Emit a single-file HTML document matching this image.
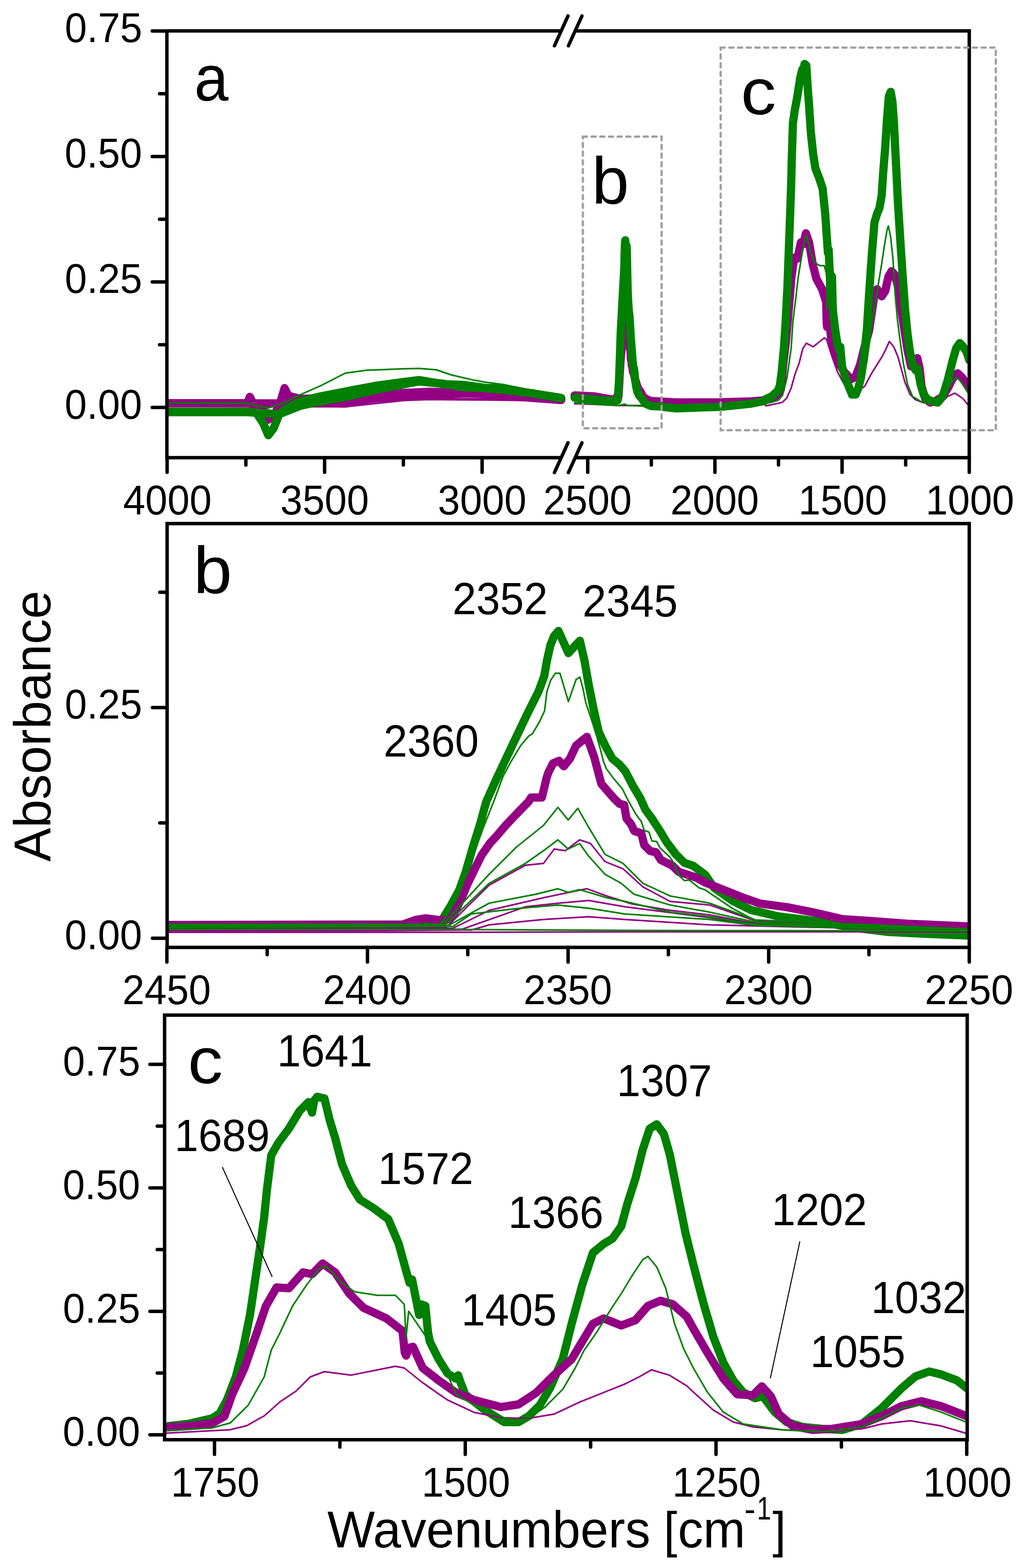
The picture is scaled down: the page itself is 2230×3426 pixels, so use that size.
<!DOCTYPE html><html><head><meta charset="utf-8"><style>html,body{margin:0;padding:0;background:#fff;}svg{display:block;}text{font-family:'Liberation Sans', Arial, sans-serif;fill:#000;}</style></head><body>
<svg width="2230" height="3426" viewBox="0 0 2230 3426">
<rect width="2230" height="3426" fill="#fff"/>
<defs>
<clipPath id="ca"><rect x="364.5" y="67.5" width="1752.5" height="932.5"/></clipPath>
<clipPath id="cb"><rect x="365.0" y="1144.0" width="1752.0" height="926.0"/></clipPath>
<clipPath id="cc"><rect x="359.5" y="2218.0" width="1753.0" height="927.7"/></clipPath>
</defs>
<g clip-path="url(#cc)">
<path d="M360.0 3117.0L411.6 3111.0L463.3 3099.0L480.0 3088.0L495.6 3058.9L515.0 3008.5L530.4 2950.4L546.0 2873.0L557.5 2795.4L569.0 2718.0L577.0 2660.0L582.7 2601.8L592.4 2524.3L608.0 2497.0L631.0 2466.0L654.4 2427.5L673.7 2408.0L681.5 2431.0L686.0 2405.0L693.0 2396.5L708.6 2400.0L720.0 2447.0L731.8 2485.6L747.0 2543.7L766.7 2590.0L786.0 2621.0L817.0 2640.5L848.0 2663.7L871.0 2718.0L886.8 2776.0L894.5 2803.0L900.0 2795.4L915.5 2873.0L920.0 2850.0L929.0 2853.5L934.9 2911.6L938.7 2931.0L958.0 2969.7L977.5 3000.7L995.0 3012.0L1000.7 3005.0L1005.0 3018.0L1016.2 3047.0L1055.0 3078.0L1101.4 3107.3L1132.4 3107.3L1155.6 3093.7L1178.9 3070.5L1202.0 3031.7L1229.0 2969.7L1248.6 2892.3L1271.8 2807.0L1295.0 2737.3L1318.3 2718.0L1337.7 2706.4L1357.0 2679.2L1370.6 2628.9L1388.0 2574.7L1403.5 2512.7L1419.0 2466.2L1434.5 2456.5L1450.0 2477.8L1463.0 2523.0L1480.3 2609.5L1497.6 2696.0L1514.9 2765.2L1536.5 2847.4L1558.0 2921.0L1579.8 2977.2L1601.4 3016.0L1623.0 3042.0L1649.0 3055.0L1666.3 3050.7L1692.2 3085.3L1718.2 3107.0L1752.8 3117.8L1796.0 3122.0L1839.3 3124.3L1882.5 3111.3L1925.8 3076.7L1969.0 3033.4L1999.3 3007.5L2029.6 2996.6L2055.6 3003.1L2090.0 3016.0L2112.0 3033.4" stroke="#008000" stroke-width="18" fill="none" stroke-linejoin="round" stroke-linecap="round"/>
<path d="M360.0 3119.0L411.6 3116.0L463.3 3110.0L490.0 3095.0L507.0 3047.0L534.0 2989.0L561.0 2911.6L580.8 2853.5L604.0 2813.0L631.0 2814.8L662.0 2780.0L681.5 2784.0L704.7 2760.6L731.8 2780.0L762.8 2826.4L793.8 2857.4L844.0 2880.7L879.0 2907.8L884.0 2955.0L887.0 2962.0L893.0 2945.0L902.0 2942.6L923.2 2989.0L958.0 3016.2L996.8 3043.3L1035.6 3058.9L1093.7 3074.3L1132.4 3068.5L1171.0 3043.3L1209.9 3004.6L1248.6 2969.7L1271.8 2931.0L1295.0 2892.3L1318.3 2880.7L1357.0 2896.1L1388.0 2884.5L1415.0 2853.5L1442.3 2842.0L1469.4 2849.7L1500.0 2876.8L1514.9 2903.7L1545.2 2955.6L1579.8 3011.8L1610.0 3046.4L1644.6 3048.6L1664.0 3029.0L1683.6 3050.7L1700.9 3089.6L1731.2 3115.6L1774.4 3124.3L1817.7 3122.0L1882.5 3111.3L1925.8 3094.0L1969.0 3072.4L2012.3 3061.5L2055.6 3072.4L2112.0 3094.5" stroke="#940084" stroke-width="18" fill="none" stroke-linejoin="round" stroke-linecap="round"/>
<path d="M360.0 3131.5L463.3 3126.0L502.0 3124.0L539.0 3115.0L560.0 3103.0L577.0 3093.7L611.8 3062.7L646.6 3039.5L677.6 3008.5L708.6 2996.9L766.7 3004.6L824.8 2993.0L863.5 2985.2L883.0 2989.0L921.7 3020.0L960.0 3047.0L977.5 3058.9L1035.6 3086.0L1093.7 3097.6L1151.8 3099.5L1209.9 3089.8L1268.0 3062.7L1326.0 3039.5L1364.8 3024.0L1395.8 3008.5L1423.0 2993.0L1461.7 3004.6L1500.0 3027.9L1514.9 3042.0L1558.0 3081.0L1601.4 3107.0L1644.6 3117.8L1709.5 3124.3L1796.0 3126.4L1882.5 3122.0L1925.8 3111.3L1988.0 3104.2L2055.6 3115.6L2112.0 3132.3" stroke="#940084" stroke-width="3.5" fill="none" stroke-linejoin="round" stroke-linecap="round"/>
<path d="M360.0 3126.0L463.3 3120.0L503.0 3109.0L542.0 3070.5L577.0 3008.5L592.4 2950.0L611.8 2911.6L639.0 2853.5L670.0 2807.0L697.0 2772.0L712.5 2766.4L747.0 2803.0L774.5 2822.6L824.8 2830.3L863.5 2830.3L883.0 2849.7L886.8 2923.3L892.6 2865.0L921.7 2907.8L960.0 2965.0L996.8 3047.0L1055.0 3082.0L1113.0 3101.4L1151.8 3101.4L1190.5 3074.3L1229.2 3035.6L1256.4 2989.0L1275.7 2950.4L1302.8 2911.6L1333.8 2861.3L1357.0 2826.4L1380.3 2787.7L1403.5 2752.8L1415.2 2745.0L1434.5 2768.3L1454.0 2814.8L1473.3 2892.3L1493.3 2947.0L1514.9 2990.0L1545.2 3042.0L1579.8 3085.3L1623.0 3111.3L1666.3 3117.8L1709.5 3124.3L1796.0 3128.6L1882.5 3117.8L1925.8 3098.3L1969.0 3076.7L2008.0 3070.0L2055.6 3085.3L2112.0 3108.0" stroke="#008000" stroke-width="3.5" fill="none" stroke-linejoin="round" stroke-linecap="round"/>
</g>
<g clip-path="url(#cb)">
<path d="M360.0 2023.0L700.0 2023.0L900.0 2022.0L955.0 2021.0L961.7 2016.0L985.5 1977.4L1003.0 1945.0L1016.8 1906.6L1031.6 1855.0L1047.8 1803.3L1062.0 1751.6L1085.2 1700.0L1118.8 1628.9L1150.8 1561.7L1167.6 1528.0L1176.0 1511.3L1188.6 1477.6L1194.5 1444.0L1202.0 1410.4L1210.0 1390.0L1219.7 1378.5L1241.5 1427.0L1258.3 1408.7L1266.5 1400.0L1276.8 1444.6L1285.8 1496.2L1296.2 1547.9L1307.8 1599.5L1323.3 1631.8L1337.5 1657.6L1353.0 1670.5L1365.8 1685.2L1382.6 1717.5L1398.1 1743.3L1409.7 1769.1L1423.9 1788.5L1440.7 1814.3L1456.2 1840.1L1475.6 1866.0L1494.9 1885.3L1514.3 1891.8L1531.1 1904.7L1540.0 1911.0L1560.0 1940.2L1600.0 1968.2L1640.0 1988.2L1700.0 2002.3L1780.0 2012.3L1860.0 2026.3L1940.3 2036.3L2020.3 2040.3L2120.0 2044.3" stroke="#008000" stroke-width="18" fill="none" stroke-linejoin="round" stroke-linecap="round"/>
<path d="M360.0 2021.0L880.0 2020.0L908.0 2010.0L930.0 2006.5L956.0 2010.0L975.0 2010.0L989.5 2001.0L1010.0 1958.0L1020.7 1932.4L1039.4 1893.7L1052.3 1867.8L1070.4 1842.0L1082.6 1829.1L1104.6 1803.3L1129.1 1777.5L1154.3 1751.6L1160.0 1742.6L1183.4 1742.6L1189.2 1719.4L1193.7 1700.0L1197.8 1687.7L1208.0 1667.6L1221.3 1662.5L1231.4 1674.3L1244.9 1657.5L1258.3 1629.0L1281.8 1610.0L1297.6 1653.5L1313.4 1712.7L1340.0 1743.3L1352.9 1756.2L1363.2 1758.8L1368.4 1788.5L1378.7 1801.4L1385.2 1815.6L1400.7 1820.8L1407.1 1846.6L1420.0 1859.5L1433.0 1862.1L1443.3 1878.9L1456.2 1885.3L1469.1 1891.8L1482.0 1904.7L1501.4 1911.1L1520.8 1917.6L1540.0 1928.2L1580.0 1944.2L1620.0 1960.2L1660.0 1974.2L1720.0 1982.3L1780.0 1994.2L1840.0 2008.3L1900.2 2012.3L1980.3 2018.3L2120.0 2024.3" stroke="#940084" stroke-width="18" fill="none" stroke-linejoin="round" stroke-linecap="round"/>
<path d="M360.0 2029.0L975.0 2026.0L1068.5 1934.0L1147.5 1890.5L1187.0 1886.5L1210.7 1855.0L1234.4 1858.8L1266.0 1835.0L1289.7 1843.0L1321.3 1882.5L1360.8 1898.3L1404.2 1937.8L1463.5 1969.5L1550.0 1977.4L1650.0 2012.0L2120.0 2028.0" stroke="#940084" stroke-width="3.5" fill="none" stroke-linejoin="round" stroke-linecap="round"/>
<path d="M360.0 2031.5L990.0 2028.0L1068.5 1989.0L1187.0 1961.5L1281.8 1941.8L1325.2 1957.6L1380.0 1975.0L1463.5 1989.0L1550.0 1999.0L1650.0 2018.0L2120.0 2030.0" stroke="#940084" stroke-width="3.5" fill="none" stroke-linejoin="round" stroke-linecap="round"/>
<path d="M360.0 2034.0L1010.0 2030.0L1147.5 1981.3L1218.6 1973.4L1285.7 1967.5L1364.7 1981.3L1550.0 2005.0L1650.0 2022.0L2120.0 2032.0" stroke="#940084" stroke-width="3.5" fill="none" stroke-linejoin="round" stroke-linecap="round"/>
<path d="M360.0 2036.5L1030.0 2032.0L1068.5 2020.8L1187.0 2009.0L1285.7 2003.0L1364.7 2009.0L1550.0 2020.8L2120.0 2034.0" stroke="#940084" stroke-width="3.5" fill="none" stroke-linejoin="round" stroke-linecap="round"/>
<path d="M360.0 2037.0L1000.0 2037.0L1400.0 2036.0L2120.0 2036.0" stroke="#940084" stroke-width="3.5" fill="none" stroke-linejoin="round" stroke-linecap="round"/>
<path d="M360.0 2019.5L960.0 2019.5L969.7 2009.0L1000.0 1960.0L1030.0 1880.0L1055.0 1810.0L1080.2 1746.6L1098.7 1696.1L1117.1 1662.5L1137.3 1628.9L1155.0 1608.0L1162.5 1603.7L1177.6 1578.5L1189.4 1553.3L1194.5 1511.3L1202.9 1486.0L1213.0 1471.0L1223.0 1471.0L1241.5 1533.0L1258.3 1484.4L1266.5 1479.4L1272.9 1502.7L1279.4 1535.0L1284.5 1550.4L1292.3 1573.7L1302.6 1606.0L1311.6 1638.2L1318.1 1664.0L1324.6 1680.0L1340.0 1700.7L1359.4 1723.9L1372.3 1749.7L1389.1 1779.4L1400.7 1795.0L1407.1 1814.3L1417.5 1818.2L1423.9 1837.5L1434.3 1838.8L1442.0 1853.0L1462.7 1872.4L1469.1 1881.5L1484.6 1915.0L1494.9 1924.0L1505.3 1922.8L1527.2 1940.0L1540.0 1944.2L1600.0 1985.0L1660.0 2016.3L2120.0 2032.0" stroke="#008000" stroke-width="3.5" fill="none" stroke-linejoin="round" stroke-linecap="round"/>
<path d="M360.0 2021.5L960.0 2021.5L973.7 2013.0L1068.5 1910.0L1127.7 1851.0L1187.0 1803.5L1218.6 1764.0L1241.0 1791.7L1262.0 1766.0L1285.7 1807.5L1321.3 1866.7L1360.8 1886.5L1404.2 1930.0L1463.5 1957.6L1550.0 1973.4L1650.0 2010.0L2120.0 2030.0" stroke="#008000" stroke-width="3.5" fill="none" stroke-linejoin="round" stroke-linecap="round"/>
<path d="M360.0 2023.5L973.7 2020.0L1068.5 1930.0L1147.5 1886.5L1187.0 1858.8L1218.6 1835.0L1241.0 1855.0L1266.0 1843.0L1285.7 1870.7L1321.3 1910.2L1356.8 1930.0L1384.5 1953.7L1463.5 1977.4L1550.0 1993.0L1650.0 2015.0L2120.0 2030.0" stroke="#008000" stroke-width="3.5" fill="none" stroke-linejoin="round" stroke-linecap="round"/>
<path d="M360.0 2025.5L980.0 2022.0L1068.5 1973.4L1171.0 1953.7L1218.6 1941.8L1241.0 1949.7L1266.0 1943.8L1325.2 1961.5L1364.7 1969.5L1463.5 1993.0L1550.0 2003.0L1650.0 2020.0L2120.0 2032.0" stroke="#008000" stroke-width="3.5" fill="none" stroke-linejoin="round" stroke-linecap="round"/>
<path d="M360.0 2027.0L990.0 2024.0L1029.0 1997.0L1130.0 1985.0L1218.6 1977.4L1290.0 1985.0L1364.7 1997.0L1550.0 2009.0L1650.0 2022.0L2120.0 2034.0" stroke="#008000" stroke-width="3.5" fill="none" stroke-linejoin="round" stroke-linecap="round"/>
<path d="M360.0 2031.0L1000.0 2031.0L1400.0 2033.0L2120.0 2034.0" stroke="#008000" stroke-width="3.5" fill="none" stroke-linejoin="round" stroke-linecap="round"/>
</g>
<g clip-path="url(#ca)">
<path d="M362.0 881.0L540.0 881.0L545.6 867.0L552.0 880.0L575.0 895.0L586.0 917.0L600.0 905.0L612.0 880.0L621.5 848.0L630.0 865.0L656.8 871.5L753.7 868.5L840.0 860.5L936.8 856.0L1033.7 859.2L1130.5 867.0L1225.7 874.0" stroke="#940084" stroke-width="18" fill="none" stroke-linejoin="round" stroke-linecap="round"/>
<path d="M362.0 881.0L656.8 881.5L753.7 881.5L840.0 866.0L882.8 867.5L936.8 862.8L1033.7 859.5L1130.5 863.0L1225.7 874.0" stroke="#940084" stroke-width="18" fill="none" stroke-linejoin="round" stroke-linecap="round"/>
<path d="M362.0 887.0L540.0 887.0L586.0 905.0L620.0 890.0L700.0 887.0L753.7 889.0L882.8 875.0L936.8 873.0L1060.0 874.0L1225.7 876.0" stroke="#940084" stroke-width="3.5" fill="none" stroke-linejoin="round" stroke-linecap="round"/>
<path d="M362.0 884.0L540.0 884.0L620.0 884.0L753.7 884.0L882.8 872.5L1033.7 871.0L1130.0 872.0L1225.7 876.0" stroke="#940084" stroke-width="3.5" fill="none" stroke-linejoin="round" stroke-linecap="round"/>
<path d="M362.0 899.5L540.0 899.5L560.0 902.0L575.0 925.0L586.0 951.0L598.0 935.0L610.0 905.0L624.7 893.0L656.8 876.5L700.0 866.0L753.7 855.5L820.0 843.0L882.8 834.5L915.0 830.5L969.0 839.5L1012.0 841.0L1060.0 847.5L1098.0 848.5L1162.8 859.5L1225.7 869.4" stroke="#008000" stroke-width="18" fill="none" stroke-linejoin="round" stroke-linecap="round"/>
<path d="M362.0 900.5L540.0 900.5L610.0 905.0L656.8 886.5L700.0 877.0L753.7 867.5L820.0 852.0L882.8 839.5L915.0 833.5L969.0 838.5L1012.0 846.5L1060.0 848.0L1098.0 851.5L1162.8 859.5L1225.7 870.0" stroke="#008000" stroke-width="18" fill="none" stroke-linejoin="round" stroke-linecap="round"/>
<path d="M362.0 880.4L540.0 881.0L586.0 891.7L620.0 880.0L656.8 862.0L700.0 843.0L753.7 815.5L800.0 809.0L882.8 805.8L915.0 805.0L953.0 808.0L985.0 819.0L1033.7 830.4L1060.0 835.0L1098.2 840.0L1162.8 853.0L1225.7 862.7" stroke="#008000" stroke-width="3.5" fill="none" stroke-linejoin="round" stroke-linecap="round"/>
<path d="M1255.0 864.0L1298.4 866.0L1344.2 874.0L1345.9 868.5L1347.3 866.6L1349.0 868.5L1350.2 868.5L1351.1 863.6L1352.4 840.2L1353.1 826.3L1354.3 805.3L1355.1 791.2L1356.2 777.1L1357.0 770.1L1358.4 756.1L1360.0 742.0L1361.5 728.0L1361.9 723.1L1363.4 723.1L1363.8 710.4L1364.0 699.9L1364.3 693.2L1365.0 682.3L1365.8 679.5L1366.4 685.9L1367.3 676.8L1368.1 661.3L1369.6 650.9L1370.6 674.6L1371.6 706.8L1373.3 723.4L1374.1 730.5L1374.8 731.9L1375.1 748.0L1375.8 755.0L1376.2 762.8L1377.2 765.6L1377.6 779.6L1378.4 786.7L1379.2 788.1L1379.9 797.2L1380.7 800.7L1381.5 804.2L1382.3 811.2L1383.6 814.7L1384.8 818.3L1386.0 824.0L1388.5 832.7L1391.1 841.4L1393.6 849.1L1397.4 853.5L1401.2 859.9L1405.0 867.6L1408.8 869.8L1413.9 873.1L1422.8 876.3L1440.0 877.0L1476.0 879.3L1572.8 879.0L1640.0 877.0L1665.0 875.0L1672.8 874.0L1685.9 871.0L1699.0 864.9L1705.8 849.6L1710.1 800.9L1717.0 741.9L1723.8 663.3L1728.8 604.2L1734.7 563.0L1741.6 564.9L1749.4 529.5L1754.4 533.6L1760.2 509.8L1767.1 529.5L1775.0 576.7L1782.8 608.2L1795.6 631.9L1804.4 659.4L1805.7 707.4L1806.5 714.5L1808.0 697.2L1810.3 694.8L1815.7 741.9L1824.5 769.6L1834.3 797.1L1844.2 813.0L1858.9 828.6L1868.7 822.7L1878.5 797.1L1888.4 757.8L1898.2 722.3L1904.1 683.0L1909.9 643.6L1915.8 631.9L1925.7 647.5L1933.5 635.7L1940.4 604.2L1947.3 592.5L1954.2 600.3L1961.9 627.9L1965.7 655.2L1973.4 708.0L1982.2 765.1L1989.8 800.3L1998.6 802.5L2003.5 782.6L2008.5 804.6L2012.9 844.2L2020.6 870.6L2031.5 879.4L2042.5 877.1L2058.9 866.2L2069.9 848.6L2080.9 826.7L2091.8 815.6L2102.8 826.7L2117.1 849.1" stroke="#940084" stroke-width="18" fill="none" stroke-linejoin="round" stroke-linecap="round"/>
<path d="M1255.0 882.0L1311.0 884.0L1350.0 886.0L1423.0 886.0L1423.0 884.0L1500.0 886.0L1600.0 884.0L1672.0 882.0L1672.8 886.7L1699.0 881.2L1708.8 879.1L1718.2 870.0L1723.6 857.8L1727.9 848.3L1736.7 816.8L1745.5 793.2L1753.4 761.7L1761.2 749.9L1776.0 757.8L1790.7 746.0L1800.5 738.1L1805.5 741.9L1815.3 773.4L1825.0 800.9L1829.4 813.0L1844.2 840.5L1858.9 852.3L1873.6 854.2L1888.4 844.4L1903.1 816.8L1917.8 793.2L1927.6 777.5L1935.5 761.7L1942.4 746.0L1952.2 757.8L1961.9 781.5L1965.7 795.8L1976.6 835.4L1987.6 861.8L1998.6 872.8L2015.0 879.4L2037.0 881.6L2058.9 877.1L2069.9 866.2L2085.7 859.0L2102.8 870.6L2117.1 887.6" stroke="#940084" stroke-width="3.5" fill="none" stroke-linejoin="round" stroke-linecap="round"/>
<path d="M1255.0 869.0L1298.4 873.0L1332.7 875.6L1345.4 875.1L1348.9 874.5L1349.3 871.8L1350.8 850.8L1352.0 833.2L1352.8 812.3L1353.8 784.2L1354.8 756.1L1355.7 728.0L1357.2 699.9L1359.3 661.2L1361.3 624.6L1362.4 606.3L1362.9 597.2L1363.7 578.9L1364.1 560.6L1364.6 542.3L1365.1 531.2L1365.7 525.0L1367.1 551.4L1368.1 541.4L1368.7 536.7L1369.3 560.9L1369.9 589.0L1370.5 617.1L1371.3 645.2L1372.3 662.8L1373.2 676.8L1374.1 683.8L1375.0 691.8L1376.0 709.4L1377.0 723.4L1377.7 737.5L1378.6 748.0L1379.7 762.1L1380.7 776.1L1381.9 790.2L1383.1 800.7L1384.4 804.2L1385.4 811.2L1386.0 814.7L1387.3 830.6L1389.8 845.8L1392.3 856.7L1396.1 864.3L1401.2 869.8L1406.3 877.4L1411.4 882.8L1416.5 885.0L1422.8 887.2L1440.0 888.0L1476.0 892.2L1572.8 889.0L1640.0 882.0L1665.0 877.0L1672.8 872.0L1685.9 865.9L1699.0 853.7L1703.3 842.5L1707.2 813.0L1712.1 761.7L1716.0 702.7L1720.0 624.0L1722.9 545.2L1725.8 466.5L1727.9 407.6L1729.3 348.4L1731.8 269.6L1735.7 241.9L1741.6 210.4L1747.5 171.3L1752.4 151.4L1754.4 174.8L1755.5 148.4L1757.3 139.8L1761.2 143.3L1764.1 191.1L1767.1 230.3L1771.0 289.4L1776.0 336.4L1780.9 367.9L1788.7 387.7L1796.6 411.3L1802.4 466.5L1806.4 525.4L1808.4 552.9L1809.8 545.2L1813.7 624.0L1814.8 600.7L1817.1 604.2L1818.6 663.3L1819.6 683.0L1824.5 722.3L1829.4 753.8L1833.9 765.3L1835.3 758.2L1836.4 771.4L1839.2 800.9L1849.1 832.4L1860.8 862.1L1868.7 862.1L1874.6 848.3L1880.5 824.7L1886.4 785.3L1893.2 722.3L1898.2 643.6L1904.1 557.0L1909.9 486.1L1915.8 466.5L1920.8 454.7L1925.7 427.1L1929.1 375.9L1933.5 320.9L1937.5 257.9L1941.4 210.6L1945.3 200.7L1949.2 222.4L1952.5 268.3L1956.9 356.2L1961.3 444.1L1965.7 514.5L1971.2 598.0L1976.6 672.8L1982.2 729.9L1987.6 769.4L1993.1 795.8L1999.7 809.0L2004.1 804.6L2010.7 839.8L2017.3 861.8L2026.0 872.8L2037.0 877.1L2048.0 879.4L2058.9 866.2L2069.9 831.0L2080.9 787.0L2088.5 760.7L2096.2 749.6L2102.8 756.2L2111.5 769.4L2117.1 787.0" stroke="#008000" stroke-width="18" fill="none" stroke-linejoin="round" stroke-linecap="round"/>
<path d="M1255.0 880.0L1311.0 884.0L1350.0 886.0L1365.0 883.0L1370.0 886.0L1423.0 888.0L1423.0 886.0L1500.0 888.0L1600.0 886.0L1672.0 884.0L1672.8 881.2L1699.0 875.1L1709.1 863.9L1719.0 824.7L1727.9 761.7L1731.8 702.3L1736.7 663.3L1743.6 604.2L1751.4 557.0L1758.3 521.4L1762.2 515.7L1771.0 552.9L1777.9 572.8L1790.7 580.6L1800.5 580.6L1805.5 600.3L1806.4 675.1L1807.9 615.9L1815.3 659.4L1825.0 717.5L1834.3 800.9L1849.1 836.4L1863.8 856.2L1873.6 856.2L1883.4 828.6L1893.3 789.3L1900.1 741.9L1905.0 702.7L1911.9 663.3L1919.8 612.1L1925.7 576.7L1931.6 537.3L1937.5 501.9L1940.4 493.9L1945.3 517.6L1950.3 564.9L1955.2 643.6L1960.2 699.2L1965.7 742.9L1973.4 795.8L1982.2 839.8L1993.1 866.2L2004.1 872.8L2015.0 879.4L2037.0 883.8L2058.9 872.8L2069.9 853.0L2080.9 831.0L2090.7 824.2L2102.8 839.8L2117.1 862.9" stroke="#008000" stroke-width="3.5" fill="none" stroke-linejoin="round" stroke-linecap="round"/>
</g>
<path d="M1225.3 67.5L364.5 67.5L364.5 1000.0L1225.3 1000.0" stroke="#000" stroke-width="7.5" fill="none" stroke-linejoin="miter" stroke-linecap="butt"/>
<path d="M1256 67.5L2117.0 67.5L2117.0 1000.0L1256 1000.0" stroke="#000" stroke-width="7.5" fill="none" stroke-linejoin="miter" stroke-linecap="butt"/>
<line x1="1211.0" y1="100.0" x2="1240.5" y2="35.0" stroke="#000" stroke-width="7.5" stroke-linecap="round"/>
<line x1="1241.5" y1="100.0" x2="1271.0" y2="35.0" stroke="#000" stroke-width="7.5" stroke-linecap="round"/>
<line x1="1211.0" y1="1032.5" x2="1240.5" y2="967.5" stroke="#000" stroke-width="7.5" stroke-linecap="round"/>
<line x1="1241.5" y1="1032.5" x2="1271.0" y2="967.5" stroke="#000" stroke-width="7.5" stroke-linecap="round"/>
<rect x="365.0" y="1144.0" width="1752.0" height="926.0" stroke="#000" stroke-width="7.5" fill="none" stroke-linejoin="miter"/>
<rect x="359.5" y="2218.0" width="1753.0" height="927.7" stroke="#000" stroke-width="7.5" fill="none" stroke-linejoin="miter"/>
<line x1="364.5" y1="890.3" x2="332.5" y2="890.3" stroke="#000" stroke-width="7.5" stroke-linecap="round"/>
<line x1="364.5" y1="616.1" x2="332.5" y2="616.1" stroke="#000" stroke-width="7.5" stroke-linecap="round"/>
<line x1="364.5" y1="341.9" x2="332.5" y2="341.9" stroke="#000" stroke-width="7.5" stroke-linecap="round"/>
<line x1="364.5" y1="67.7" x2="332.5" y2="67.7" stroke="#000" stroke-width="7.5" stroke-linecap="round"/>
<line x1="364.5" y1="753.2" x2="348.5" y2="753.2" stroke="#000" stroke-width="7.5" stroke-linecap="round"/>
<line x1="364.5" y1="479.0" x2="348.5" y2="479.0" stroke="#000" stroke-width="7.5" stroke-linecap="round"/>
<line x1="364.5" y1="204.8" x2="348.5" y2="204.8" stroke="#000" stroke-width="7.5" stroke-linecap="round"/>
<line x1="365.0" y1="2050.0" x2="333.0" y2="2050.0" stroke="#000" stroke-width="7.5" stroke-linecap="round"/>
<line x1="365.0" y1="1546.0" x2="333.0" y2="1546.0" stroke="#000" stroke-width="7.5" stroke-linecap="round"/>
<line x1="365.0" y1="1798.0" x2="349.0" y2="1798.0" stroke="#000" stroke-width="7.5" stroke-linecap="round"/>
<line x1="365.0" y1="1294.0" x2="349.0" y2="1294.0" stroke="#000" stroke-width="7.5" stroke-linecap="round"/>
<line x1="359.5" y1="3135.0" x2="327.5" y2="3135.0" stroke="#000" stroke-width="7.5" stroke-linecap="round"/>
<line x1="359.5" y1="2865.2" x2="327.5" y2="2865.2" stroke="#000" stroke-width="7.5" stroke-linecap="round"/>
<line x1="359.5" y1="2595.4" x2="327.5" y2="2595.4" stroke="#000" stroke-width="7.5" stroke-linecap="round"/>
<line x1="359.5" y1="2325.6" x2="327.5" y2="2325.6" stroke="#000" stroke-width="7.5" stroke-linecap="round"/>
<line x1="359.5" y1="3000.1" x2="343.5" y2="3000.1" stroke="#000" stroke-width="7.5" stroke-linecap="round"/>
<line x1="359.5" y1="2730.3" x2="343.5" y2="2730.3" stroke="#000" stroke-width="7.5" stroke-linecap="round"/>
<line x1="359.5" y1="2460.5" x2="343.5" y2="2460.5" stroke="#000" stroke-width="7.5" stroke-linecap="round"/>
<line x1="365.0" y1="1000.0" x2="365.0" y2="1032.0" stroke="#000" stroke-width="7.5" stroke-linecap="round"/>
<line x1="709.0" y1="1000.0" x2="709.0" y2="1032.0" stroke="#000" stroke-width="7.5" stroke-linecap="round"/>
<line x1="1053.0" y1="1000.0" x2="1053.0" y2="1032.0" stroke="#000" stroke-width="7.5" stroke-linecap="round"/>
<line x1="1283.7" y1="1000.0" x2="1283.7" y2="1032.0" stroke="#000" stroke-width="7.5" stroke-linecap="round"/>
<line x1="1561.5" y1="1000.0" x2="1561.5" y2="1032.0" stroke="#000" stroke-width="7.5" stroke-linecap="round"/>
<line x1="1839.2" y1="1000.0" x2="1839.2" y2="1032.0" stroke="#000" stroke-width="7.5" stroke-linecap="round"/>
<line x1="2117.0" y1="1000.0" x2="2117.0" y2="1032.0" stroke="#000" stroke-width="7.5" stroke-linecap="round"/>
<line x1="537.0" y1="1000.0" x2="537.0" y2="1016.0" stroke="#000" stroke-width="7.5" stroke-linecap="round"/>
<line x1="881.0" y1="1000.0" x2="881.0" y2="1016.0" stroke="#000" stroke-width="7.5" stroke-linecap="round"/>
<line x1="1422.6" y1="1000.0" x2="1422.6" y2="1016.0" stroke="#000" stroke-width="7.5" stroke-linecap="round"/>
<line x1="1700.3" y1="1000.0" x2="1700.3" y2="1016.0" stroke="#000" stroke-width="7.5" stroke-linecap="round"/>
<line x1="1978.1" y1="1000.0" x2="1978.1" y2="1016.0" stroke="#000" stroke-width="7.5" stroke-linecap="round"/>
<line x1="364.5" y1="2070.0" x2="364.5" y2="2102.0" stroke="#000" stroke-width="7.5" stroke-linecap="round"/>
<line x1="802.6" y1="2070.0" x2="802.6" y2="2102.0" stroke="#000" stroke-width="7.5" stroke-linecap="round"/>
<line x1="1240.8" y1="2070.0" x2="1240.8" y2="2102.0" stroke="#000" stroke-width="7.5" stroke-linecap="round"/>
<line x1="1678.9" y1="2070.0" x2="1678.9" y2="2102.0" stroke="#000" stroke-width="7.5" stroke-linecap="round"/>
<line x1="2117.0" y1="2070.0" x2="2117.0" y2="2102.0" stroke="#000" stroke-width="7.5" stroke-linecap="round"/>
<line x1="583.6" y1="2070.0" x2="583.6" y2="2086.0" stroke="#000" stroke-width="7.5" stroke-linecap="round"/>
<line x1="1021.7" y1="2070.0" x2="1021.7" y2="2086.0" stroke="#000" stroke-width="7.5" stroke-linecap="round"/>
<line x1="1459.8" y1="2070.0" x2="1459.8" y2="2086.0" stroke="#000" stroke-width="7.5" stroke-linecap="round"/>
<line x1="1897.9" y1="2070.0" x2="1897.9" y2="2086.0" stroke="#000" stroke-width="7.5" stroke-linecap="round"/>
<line x1="468.5" y1="3145.7" x2="468.5" y2="3177.7" stroke="#000" stroke-width="7.5" stroke-linecap="round"/>
<line x1="1016.2" y1="3145.7" x2="1016.2" y2="3177.7" stroke="#000" stroke-width="7.5" stroke-linecap="round"/>
<line x1="1563.9" y1="3145.7" x2="1563.9" y2="3177.7" stroke="#000" stroke-width="7.5" stroke-linecap="round"/>
<line x1="2111.5" y1="3145.7" x2="2111.5" y2="3177.7" stroke="#000" stroke-width="7.5" stroke-linecap="round"/>
<line x1="742.3" y1="3145.7" x2="742.3" y2="3161.7" stroke="#000" stroke-width="7.5" stroke-linecap="round"/>
<line x1="1290.0" y1="3145.7" x2="1290.0" y2="3161.7" stroke="#000" stroke-width="7.5" stroke-linecap="round"/>
<line x1="1837.7" y1="3145.7" x2="1837.7" y2="3161.7" stroke="#000" stroke-width="7.5" stroke-linecap="round"/>
<rect x="1273.0" y="298.4" width="172.0" height="637.4" fill="none" stroke="#a0a0a0" stroke-width="5" stroke-dasharray="9 10" stroke-linecap="round"/>
<rect x="1574.0" y="104.0" width="601.0" height="836.0" fill="none" stroke="#a0a0a0" stroke-width="5" stroke-dasharray="9 10" stroke-linecap="round"/>
<text transform="translate(141.21 914.60) scale(0.9500 1)" font-size="91.50">0.00</text>
<text transform="translate(141.47 640.40) scale(0.9500 1)" font-size="91.50">0.25</text>
<text transform="translate(141.21 366.20) scale(0.9500 1)" font-size="91.50">0.50</text>
<text transform="translate(141.47 92.00) scale(0.9500 1)" font-size="91.50">0.75</text>
<text transform="translate(141.21 2074.30) scale(0.9500 1)" font-size="91.50">0.00</text>
<text transform="translate(141.47 1570.30) scale(0.9500 1)" font-size="91.50">0.25</text>
<text transform="translate(137.01 3159.30) scale(0.9500 1)" font-size="91.50">0.00</text>
<text transform="translate(137.27 2889.50) scale(0.9500 1)" font-size="91.50">0.25</text>
<text transform="translate(137.01 2619.70) scale(0.9500 1)" font-size="91.50">0.50</text>
<text transform="translate(137.27 2349.90) scale(0.9500 1)" font-size="91.50">0.75</text>
<text transform="translate(269.01 1124.30) scale(0.9500 1)" font-size="91.50">4000</text>
<text transform="translate(612.36 1124.30) scale(0.9500 1)" font-size="91.50">3500</text>
<text transform="translate(956.36 1124.30) scale(0.9500 1)" font-size="91.50">3000</text>
<text transform="translate(1186.52 1124.30) scale(0.9500 1)" font-size="91.50">2500</text>
<text transform="translate(1464.29 1124.30) scale(0.9500 1)" font-size="91.50">2000</text>
<text transform="translate(1743.93 1124.30) scale(0.9500 1)" font-size="91.50">1500</text>
<text transform="translate(2021.70 1124.30) scale(0.9500 1)" font-size="91.50">1000</text>
<text transform="translate(267.32 2194.30) scale(0.9500 1)" font-size="91.50">2450</text>
<text transform="translate(705.45 2194.30) scale(0.9500 1)" font-size="91.50">2400</text>
<text transform="translate(1143.57 2194.30) scale(0.9500 1)" font-size="91.50">2350</text>
<text transform="translate(1581.70 2194.30) scale(0.9500 1)" font-size="91.50">2300</text>
<text transform="translate(2019.82 2194.30) scale(0.9500 1)" font-size="91.50">2250</text>
<text transform="translate(373.20 3269.70) scale(0.9500 1)" font-size="91.50">1750</text>
<text transform="translate(920.88 3269.70) scale(0.9500 1)" font-size="91.50">1500</text>
<text transform="translate(1468.55 3269.70) scale(0.9500 1)" font-size="91.50">1250</text>
<text transform="translate(2016.23 3269.70) scale(0.9500 1)" font-size="91.50">1000</text>
<text transform="translate(714.90 3380.70) scale(0.9718 1)" font-size="113.30">Wavenumbers</text>
<text transform="translate(1449.50 3379.99) scale(0.9749 1)" font-size="109.43">[</text>
<text transform="translate(1480.50 3380.70) scale(0.9766 1)" font-size="113.30">cm</text>
<text transform="translate(1625.72 3323.40) scale(0.9600 1)" font-size="76.80">-</text>
<text transform="translate(1653.21 3320.00) scale(0.8000 1)" font-size="69.80">1</text>
<text transform="translate(1687.17 3380.29) scale(0.9657 1)" font-size="109.43">]</text>
<text transform="translate(110 1882.8) rotate(-90) scale(0.9794 1)" font-size="113.3">Absorbance</text>
<text transform="translate(424.29 220.31) scale(0.9471 1)" font-size="141.83">a</text>
<text transform="translate(1292.57 444.59) scale(1.0137 1)" font-size="144.34">b</text>
<text transform="translate(1618.06 249.60) scale(1.0776 1)" font-size="142.92">c</text>
<text transform="translate(422.53 1296.09) scale(1.0517 1)" font-size="144.20">b</text>
<text transform="translate(410.31 2366.61) scale(1.0749 1)" font-size="142.19">c</text>
<text transform="translate(837.78 1652.94) scale(0.9550 1)" font-size="97.90">2360</text>
<text transform="translate(988.26 1342.44) scale(0.9550 1)" font-size="97.90">2352</text>
<text transform="translate(1272.22 1347.24) scale(0.9550 1)" font-size="97.90">2345</text>
<text transform="translate(605.18 2330.34) scale(0.9550 1)" font-size="97.90">1641</text>
<text transform="translate(381.26 2515.24) scale(0.9550 1)" font-size="97.90">1689</text>
<text transform="translate(825.70 2586.94) scale(0.9550 1)" font-size="97.90">1572</text>
<text transform="translate(1110.00 2682.54) scale(0.9550 1)" font-size="97.90">1366</text>
<text transform="translate(1347.00 2395.04) scale(0.9550 1)" font-size="97.90">1307</text>
<text transform="translate(1007.66 2895.54) scale(0.9550 1)" font-size="97.90">1405</text>
<text transform="translate(1685.60 2677.34) scale(0.9550 1)" font-size="97.90">1202</text>
<text transform="translate(1902.45 2869.04) scale(0.9550 1)" font-size="97.90">1032</text>
<text transform="translate(1769.51 2987.04) scale(0.9550 1)" font-size="97.90">1055</text>
<line x1="485.5" y1="2550.0" x2="594.5" y2="2790.0" stroke="#000" stroke-width="2.2" stroke-linecap="butt"/>
<line x1="1747.0" y1="2712.5" x2="1682.5" y2="3011.5" stroke="#000" stroke-width="2.2" stroke-linecap="butt"/>
</svg></body></html>
